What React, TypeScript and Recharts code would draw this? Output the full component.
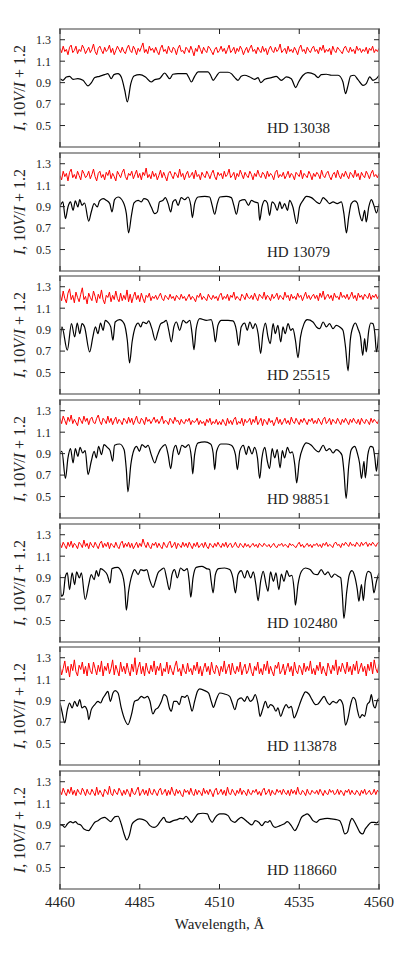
import { LineChart, Line, XAxis, YAxis } from 'recharts'

const SERIF = '"Liberation Serif", "DejaVu Serif", serif'
const INK = '#222'
const FRAME = '#7c7c7c'

const X_TICKS = [4460, 4485, 4510, 4535, 4560]
const Y_TICKS = [0.5, 0.7, 0.9, 1.1, 1.3]
const STAR_NAMES = ['HD 13038', 'HD 13079', 'HD 25515', 'HD 98851', 'HD 102480', 'HD 113878', 'HD 118660']

// Stokes I profiles (wavelength, normalised intensity)
const hd13038Wl = [4460.0, 4460.9, 4462.0, 4463.0, 4464.1, 4465.6, 4467.2, 4468.8, 4469.8, 4470.9, 4472.4, 4474.0, 4475.0, 4476.1, 4476.9, 4478.2, 4479.2, 4480.3, 4481.1, 4482.2, 4483.2, 4485.0, 4486.8, 4488.6, 4489.7, 4491.2, 4492.8, 4494.4, 4495.4, 4497.0, 4499.6, 4500.3, 4501.2, 4502.2, 4503.3, 4506.4, 4507.2, 4508.0, 4509.0, 4510.1, 4512.7, 4513.7, 4514.8, 4515.8, 4516.8, 4517.9, 4519.5, 4521.0, 4522.1, 4522.9, 4524.2, 4526.3, 4527.8, 4529.4, 4531.0, 4532.5, 4533.9, 4534.8, 4536.2, 4537.7, 4539.8, 4540.9, 4541.9, 4543.5, 4545.1, 4547.2, 4548.7, 4549.5, 4550.3, 4551.1, 4552.2, 4553.4, 4555.0, 4556.0, 4557.1, 4558.1, 4559.2, 4560.0]
const hd13038I = [0.937, 0.922, 0.953, 0.959, 0.931, 0.937, 0.922, 0.869, 0.897, 0.947, 0.959, 0.975, 0.984, 0.937, 0.975, 0.984, 0.953, 0.829, 0.72, 0.891, 0.962, 0.975, 0.953, 0.906, 0.928, 0.937, 0.99, 0.937, 0.978, 0.984, 0.984, 0.953, 0.906, 0.959, 1.0, 1.0, 0.969, 0.922, 0.959, 0.997, 0.997, 0.984, 0.947, 0.922, 0.959, 0.969, 0.953, 0.931, 0.947, 0.9, 0.931, 0.947, 0.959, 0.922, 0.953, 0.937, 0.854, 0.906, 0.969, 0.993, 0.975, 0.947, 0.975, 0.978, 0.969, 0.969, 0.906, 0.798, 0.875, 0.962, 0.969, 0.928, 0.875, 0.891, 0.953, 0.922, 0.937, 0.969]

const hd13079Wl = [4460.0, 4460.9, 4461.7, 4462.5, 4463.3, 4464.1, 4464.8, 4465.6, 4466.2, 4466.9, 4467.7, 4469.0, 4469.8, 4470.7, 4471.7, 4472.4, 4473.5, 4474.5, 4475.6, 4476.3, 4477.1, 4478.2, 4479.8, 4480.8, 4481.5, 4482.4, 4483.2, 4484.5, 4485.5, 4486.3, 4487.4, 4488.6, 4489.7, 4490.5, 4491.2, 4492.3, 4493.0, 4493.9, 4494.7, 4495.4, 4496.2, 4497.0, 4498.0, 4499.1, 4500.1, 4501.0, 4501.5, 4502.2, 4503.3, 4505.4, 4506.9, 4507.7, 4508.5, 4509.3, 4510.1, 4512.1, 4513.7, 4514.5, 4515.3, 4516.3, 4517.9, 4519.1, 4520.0, 4521.0, 4522.1, 4522.6, 4523.3, 4524.2, 4525.0, 4525.7, 4526.5, 4527.3, 4528.1, 4528.9, 4529.6, 4530.4, 4531.3, 4532.0, 4533.0, 4534.2, 4535.1, 4536.2, 4537.2, 4538.8, 4540.4, 4541.4, 4542.5, 4543.5, 4544.5, 4545.6, 4546.9, 4548.2, 4549.0, 4549.8, 4550.5, 4551.3, 4552.4, 4553.2, 4553.9, 4554.7, 4555.5, 4556.0, 4556.8, 4557.6, 4558.4, 4559.2, 4560.0]
const hd13079I = [0.903, 0.944, 0.788, 0.897, 0.944, 0.866, 0.953, 0.897, 0.965, 0.912, 0.934, 0.764, 0.85, 0.928, 0.897, 0.953, 0.975, 0.959, 0.928, 0.85, 0.965, 0.99, 0.944, 0.835, 0.655, 0.819, 0.934, 0.959, 0.944, 0.975, 0.965, 0.897, 0.835, 0.85, 0.944, 0.959, 0.984, 0.928, 0.85, 0.944, 0.965, 0.912, 0.984, 0.965, 0.99, 0.912, 0.798, 0.928, 0.99, 0.996, 0.99, 0.912, 0.829, 0.928, 0.99, 0.996, 0.984, 0.912, 0.829, 0.953, 0.965, 0.912, 0.959, 0.944, 0.934, 0.773, 0.897, 0.959, 0.934, 0.819, 0.944, 0.922, 0.866, 0.944, 0.881, 0.928, 0.866, 0.959, 0.897, 0.742, 0.897, 0.959, 0.996, 0.984, 0.944, 0.928, 0.984, 0.959, 0.928, 0.944, 0.928, 0.944, 0.835, 0.655, 0.804, 0.928, 0.953, 0.934, 0.835, 0.767, 0.866, 0.757, 0.897, 0.965, 0.912, 0.841, 0.928]

const hd25515Wl = [4460.0, 4460.6, 4462.3, 4463.6, 4464.6, 4465.4, 4466.2, 4466.9, 4467.7, 4469.3, 4470.3, 4471.1, 4471.9, 4472.7, 4473.5, 4474.2, 4475.0, 4475.9, 4476.6, 4477.3, 4478.7, 4480.1, 4481.1, 4481.8, 4482.6, 4483.6, 4484.5, 4485.3, 4486.0, 4487.1, 4487.8, 4488.8, 4489.9, 4490.7, 4491.6, 4492.6, 4493.3, 4494.1, 4494.9, 4495.7, 4496.5, 4497.5, 4498.6, 4499.6, 4500.7, 4501.4, 4502.0, 4502.7, 4503.8, 4505.9, 4507.4, 4508.2, 4508.7, 4509.5, 4510.6, 4512.7, 4514.2, 4515.3, 4516.0, 4516.8, 4517.9, 4518.7, 4519.5, 4520.5, 4521.2, 4522.1, 4522.9, 4523.6, 4524.4, 4525.2, 4525.9, 4526.8, 4527.5, 4528.3, 4529.2, 4529.9, 4530.6, 4531.5, 4532.3, 4533.0, 4533.8, 4534.6, 4535.4, 4536.5, 4537.5, 4539.3, 4540.4, 4541.4, 4542.5, 4543.5, 4544.5, 4545.6, 4546.6, 4547.7, 4548.7, 4549.5, 4550.3, 4551.0, 4551.9, 4552.6, 4553.4, 4554.2, 4554.9, 4555.5, 4556.0, 4556.8, 4557.4, 4558.1, 4558.7, 4559.2, 4559.7, 4560.0]
const hd25515I = [0.754, 0.925, 0.708, 0.956, 0.832, 0.962, 0.863, 0.956, 0.925, 0.692, 0.832, 0.925, 0.863, 0.962, 0.894, 0.987, 0.971, 0.925, 0.801, 0.971, 0.993, 0.956, 0.801, 0.59, 0.785, 0.925, 0.962, 0.925, 0.971, 0.956, 0.981, 0.909, 0.801, 0.878, 0.956, 0.971, 0.987, 0.894, 0.785, 0.925, 0.971, 0.894, 0.987, 0.962, 0.987, 0.863, 0.714, 0.909, 1.002, 0.987, 0.993, 0.894, 0.785, 0.94, 0.987, 0.987, 0.981, 0.894, 0.754, 0.925, 0.962, 0.894, 0.971, 0.909, 0.956, 0.863, 0.677, 0.863, 0.962, 0.832, 0.77, 0.956, 0.863, 0.94, 0.785, 0.925, 0.863, 0.956, 0.894, 0.909, 0.801, 0.64, 0.832, 0.956, 0.993, 0.971, 0.925, 0.909, 0.971, 0.925, 0.956, 0.909, 0.94, 0.925, 0.894, 0.739, 0.516, 0.801, 0.931, 0.962, 0.909, 0.832, 0.661, 0.816, 0.692, 0.894, 0.962, 0.956, 0.863, 0.692, 0.785, 0.894]

const hd98851Wl = [4460.0, 4460.6, 4461.7, 4462.5, 4463.3, 4464.1, 4464.8, 4465.6, 4466.3, 4467.1, 4467.9, 4468.8, 4469.8, 4470.7, 4471.4, 4472.1, 4473.0, 4473.8, 4474.8, 4475.7, 4476.5, 4477.1, 4478.7, 4480.1, 4480.8, 4481.3, 4482.2, 4483.2, 4484.0, 4484.9, 4485.7, 4486.8, 4487.6, 4488.6, 4489.7, 4490.5, 4491.4, 4492.2, 4493.0, 4493.9, 4494.7, 4495.5, 4496.3, 4497.2, 4498.2, 4499.3, 4500.3, 4501.2, 4501.6, 4502.2, 4503.3, 4505.4, 4507.2, 4508.0, 4508.5, 4509.1, 4510.4, 4512.1, 4513.7, 4515.0, 4515.6, 4516.4, 4517.5, 4518.4, 4519.1, 4520.2, 4521.0, 4521.9, 4522.6, 4523.3, 4524.2, 4525.0, 4525.7, 4526.5, 4527.3, 4528.1, 4529.0, 4529.7, 4530.4, 4531.3, 4532.1, 4532.8, 4533.6, 4534.2, 4535.0, 4536.2, 4537.2, 4538.8, 4540.0, 4541.1, 4542.5, 4543.5, 4544.5, 4545.6, 4546.6, 4547.7, 4548.4, 4549.0, 4549.7, 4550.5, 4551.3, 4552.4, 4553.2, 4553.9, 4554.5, 4555.3, 4555.7, 4556.5, 4557.4, 4558.1, 4558.7, 4559.2, 4559.7, 4560.0]
const hd98851I = [0.906, 0.922, 0.668, 0.86, 0.947, 0.813, 0.947, 0.875, 0.959, 0.906, 0.928, 0.705, 0.829, 0.922, 0.86, 0.968, 0.891, 0.984, 0.959, 0.928, 0.829, 0.978, 0.99, 0.937, 0.751, 0.544, 0.798, 0.937, 0.968, 0.922, 0.984, 0.959, 0.978, 0.891, 0.813, 0.875, 0.937, 0.968, 0.984, 0.891, 0.761, 0.922, 0.978, 0.891, 0.978, 0.959, 0.984, 0.86, 0.711, 0.891, 1.0, 1.009, 0.99, 0.906, 0.751, 0.922, 0.99, 0.99, 0.978, 0.891, 0.751, 0.928, 0.978, 0.891, 0.968, 0.897, 0.959, 0.86, 0.668, 0.86, 0.959, 0.829, 0.761, 0.947, 0.86, 0.937, 0.767, 0.928, 0.86, 0.959, 0.906, 0.916, 0.798, 0.627, 0.829, 0.959, 1.0, 0.978, 0.937, 0.916, 0.978, 0.928, 0.947, 0.906, 0.937, 0.916, 0.885, 0.736, 0.482, 0.782, 0.937, 0.968, 0.906, 0.813, 0.668, 0.829, 0.674, 0.891, 0.968, 0.959, 0.86, 0.736, 0.86, 0.937]

const hd102480Wl = [4460.0, 4460.4, 4461.0, 4461.7, 4462.3, 4463.0, 4463.8, 4464.6, 4465.2, 4466.1, 4466.7, 4467.9, 4469.0, 4469.8, 4470.7, 4471.4, 4472.1, 4472.7, 4473.8, 4474.8, 4475.7, 4476.3, 4478.0, 4479.4, 4480.3, 4480.8, 4481.5, 4482.6, 4483.4, 4484.5, 4485.3, 4486.3, 4487.2, 4488.1, 4489.2, 4489.9, 4490.7, 4491.8, 4492.6, 4493.4, 4494.3, 4495.1, 4495.9, 4496.8, 4497.8, 4498.9, 4499.9, 4500.5, 4501.0, 4501.7, 4502.7, 4504.5, 4505.9, 4506.9, 4507.4, 4508.0, 4508.7, 4509.7, 4511.6, 4513.2, 4514.2, 4515.0, 4515.8, 4516.8, 4517.9, 4518.7, 4519.8, 4520.6, 4521.4, 4522.1, 4522.9, 4523.7, 4524.6, 4525.2, 4526.0, 4526.9, 4527.7, 4528.6, 4529.4, 4530.2, 4531.1, 4531.9, 4532.7, 4533.4, 4533.8, 4534.6, 4535.7, 4536.9, 4538.4, 4539.6, 4540.7, 4541.9, 4543.0, 4544.0, 4545.1, 4546.1, 4547.2, 4548.0, 4548.5, 4549.0, 4549.9, 4550.7, 4551.5, 4552.4, 4553.2, 4553.7, 4554.5, 4555.1, 4555.7, 4556.6, 4557.4, 4557.9, 4558.4, 4559.2, 4560.0]
const hd102480I = [0.928, 0.727, 0.742, 0.912, 0.944, 0.788, 0.944, 0.835, 0.953, 0.897, 0.944, 0.696, 0.835, 0.928, 0.881, 0.965, 0.912, 0.984, 0.965, 0.928, 0.85, 0.984, 0.996, 0.944, 0.804, 0.596, 0.773, 0.928, 0.975, 0.928, 0.975, 0.965, 0.975, 0.881, 0.81, 0.866, 0.944, 0.975, 0.99, 0.897, 0.788, 0.928, 0.975, 0.897, 0.99, 0.965, 0.984, 0.866, 0.717, 0.897, 0.996, 1.005, 0.984, 0.975, 0.866, 0.758, 0.928, 0.984, 0.99, 0.975, 0.897, 0.758, 0.928, 0.965, 0.897, 0.965, 0.897, 0.953, 0.835, 0.686, 0.866, 0.959, 0.835, 0.773, 0.953, 0.866, 0.944, 0.788, 0.934, 0.866, 0.965, 0.912, 0.922, 0.788, 0.643, 0.835, 0.959, 0.99, 0.975, 0.934, 0.928, 0.975, 0.928, 0.953, 0.903, 0.934, 0.912, 0.897, 0.742, 0.519, 0.773, 0.928, 0.965, 0.912, 0.788, 0.68, 0.835, 0.686, 0.866, 0.959, 0.944, 0.866, 0.758, 0.866, 0.944]

const hd113878Wl = [4460.0, 4460.6, 4461.5, 4462.3, 4463.0, 4463.8, 4464.6, 4465.4, 4466.2, 4466.9, 4467.7, 4468.6, 4469.0, 4469.8, 4470.9, 4471.9, 4472.7, 4473.5, 4474.2, 4475.0, 4475.8, 4476.6, 4477.3, 4478.2, 4479.2, 4480.3, 4481.3, 4482.4, 4483.4, 4484.5, 4485.5, 4486.5, 4487.4, 4488.2, 4489.1, 4489.9, 4490.7, 4491.8, 4492.6, 4493.4, 4494.3, 4494.9, 4495.7, 4496.6, 4497.4, 4498.2, 4499.1, 4499.9, 4500.8, 4501.4, 4502.2, 4503.1, 4503.8, 4505.4, 4506.6, 4507.4, 4508.1, 4509.0, 4510.1, 4511.6, 4513.2, 4514.0, 4514.8, 4515.8, 4516.8, 4517.9, 4518.7, 4519.6, 4520.4, 4521.2, 4522.1, 4522.7, 4523.5, 4524.4, 4525.2, 4526.0, 4526.9, 4527.7, 4528.3, 4529.2, 4530.0, 4530.9, 4531.7, 4532.5, 4533.4, 4534.2, 4535.1, 4536.1, 4536.9, 4538.0, 4539.0, 4540.1, 4540.9, 4541.9, 4542.8, 4543.6, 4544.5, 4545.6, 4546.6, 4547.7, 4548.7, 4549.5, 4550.3, 4551.1, 4551.9, 4552.6, 4553.2, 4554.0, 4554.7, 4555.5, 4556.3, 4557.1, 4557.6, 4558.2, 4558.8, 4559.4, 4560.0]
const hd113878I = [0.878, 0.801, 0.692, 0.816, 0.878, 0.832, 0.894, 0.847, 0.909, 0.832, 0.847, 0.801, 0.723, 0.816, 0.863, 0.894, 0.878, 0.925, 0.956, 0.987, 0.894, 0.971, 0.993, 0.971, 0.832, 0.723, 0.677, 0.77, 0.894, 0.909, 0.94, 0.925, 0.94, 0.894, 0.776, 0.816, 0.832, 0.894, 0.956, 0.94, 0.832, 0.801, 0.894, 0.894, 0.863, 0.94, 0.931, 0.95, 0.863, 0.801, 0.894, 0.987, 1.009, 0.993, 0.971, 0.894, 0.838, 0.909, 0.971, 0.962, 0.94, 0.878, 0.816, 0.909, 0.925, 0.894, 0.94, 0.894, 0.909, 0.956, 0.863, 0.754, 0.816, 0.894, 0.832, 0.863, 0.847, 0.801, 0.832, 0.754, 0.816, 0.863, 0.832, 0.847, 0.739, 0.785, 0.863, 0.94, 0.981, 0.962, 0.909, 0.863, 0.869, 0.909, 0.94, 0.894, 0.863, 0.894, 0.878, 0.909, 0.863, 0.671, 0.739, 0.863, 0.931, 0.909, 0.816, 0.739, 0.77, 0.754, 0.863, 0.894, 0.956, 0.863, 0.832, 0.894, 0.925]

const hd118660Wl = [4460.0, 4460.6, 4461.5, 4462.3, 4463.3, 4464.1, 4464.8, 4465.6, 4466.5, 4467.5, 4469.0, 4469.8, 4470.9, 4471.9, 4473.0, 4474.0, 4474.8, 4475.9, 4476.6, 4477.3, 4478.2, 4479.2, 4480.1, 4480.9, 4481.7, 4482.6, 4483.6, 4484.9, 4486.1, 4487.2, 4488.2, 4489.5, 4490.5, 4491.6, 4492.6, 4493.3, 4494.3, 4495.5, 4496.8, 4497.6, 4498.6, 4499.5, 4500.3, 4501.2, 4502.2, 4503.3, 4504.8, 4506.2, 4506.9, 4507.7, 4508.7, 4510.1, 4511.4, 4512.7, 4513.7, 4514.8, 4515.8, 4516.8, 4517.7, 4518.9, 4520.2, 4521.2, 4522.3, 4523.3, 4524.4, 4525.2, 4525.8, 4526.7, 4527.5, 4529.0, 4530.2, 4531.3, 4532.5, 4533.6, 4534.6, 4535.7, 4536.7, 4537.5, 4538.4, 4539.3, 4540.4, 4541.4, 4542.5, 4543.8, 4545.1, 4546.6, 4547.7, 4548.4, 4549.3, 4550.1, 4550.9, 4551.5, 4552.4, 4553.2, 4554.0, 4554.9, 4555.7, 4556.5, 4557.6, 4558.6, 4559.3, 4560.0]
const hd118660I = [0.891, 0.897, 0.875, 0.906, 0.928, 0.916, 0.928, 0.906, 0.897, 0.86, 0.844, 0.875, 0.922, 0.937, 0.959, 0.968, 0.953, 0.928, 0.953, 0.975, 0.978, 0.906, 0.813, 0.758, 0.798, 0.906, 0.937, 0.953, 0.947, 0.928, 0.891, 0.875, 0.891, 0.937, 0.968, 0.928, 0.922, 0.937, 0.947, 0.959, 0.953, 0.978, 0.953, 0.922, 0.959, 1.0, 1.006, 1.0, 0.953, 0.922, 0.968, 1.0, 1.0, 0.984, 0.937, 0.922, 0.947, 0.968, 0.953, 0.922, 0.897, 0.937, 0.922, 0.891, 0.928, 0.922, 0.937, 0.891, 0.875, 0.891, 0.906, 0.928, 0.891, 0.844, 0.891, 0.968, 0.99, 1.0, 0.978, 0.937, 0.922, 0.947, 0.953, 0.959, 0.953, 0.947, 0.937, 0.891, 0.813, 0.829, 0.922, 0.959, 0.922, 0.875, 0.829, 0.813, 0.86, 0.891, 0.922, 0.922, 0.916, 0.937]

// Stokes V (10V/I + 1.2), sampled evenly across 4460-4560
const hd13038V = [1.22, 1.18, 1.24, 1.19, 1.21, 1.16, 1.23, 1.25, 1.18, 1.2, 1.24, 1.17, 1.21, 1.19, 1.25, 1.22, 1.17, 1.2, 1.23, 1.18, 1.21, 1.26, 1.19, 1.16, 1.22, 1.24, 1.2, 1.17, 1.23, 1.19, 1.21, 1.25, 1.18, 1.22, 1.16, 1.2, 1.24, 1.21, 1.18, 1.23, 1.19, 1.17, 1.22, 1.25, 1.2, 1.18, 1.24, 1.21, 1.16, 1.22, 1.19, 1.23, 1.27, 1.18, 1.21, 1.17, 1.24, 1.2, 1.22, 1.18, 1.23, 1.19, 1.16, 1.22, 1.25, 1.19, 1.21, 1.17, 1.24, 1.2, 1.18, 1.23, 1.21, 1.16, 1.22, 1.25, 1.19, 1.2, 1.17, 1.23, 1.21, 1.18, 1.24, 1.2, 1.15, 1.22, 1.19, 1.25, 1.21, 1.17, 1.23, 1.2, 1.18, 1.24, 1.22, 1.19, 1.16, 1.21, 1.23, 1.18, 1.2, 1.24, 1.19, 1.22, 1.17, 1.21, 1.25, 1.18, 1.2, 1.23, 1.17, 1.22, 1.19, 1.24, 1.21, 1.16, 1.2, 1.23, 1.18, 1.22, 1.25, 1.19, 1.21, 1.17, 1.23, 1.2, 1.18, 1.24, 1.19, 1.22, 1.16, 1.21, 1.24, 1.2, 1.18, 1.23, 1.19, 1.21, 1.26, 1.18, 1.2, 1.22, 1.17, 1.24, 1.19, 1.21, 1.18, 1.23, 1.2, 1.16, 1.22, 1.25, 1.19, 1.21, 1.17, 1.23, 1.2, 1.18, 1.22, 1.24, 1.19, 1.21, 1.17, 1.23, 1.2, 1.25, 1.18, 1.21, 1.19, 1.22, 1.16, 1.24, 1.2, 1.18, 1.23, 1.21, 1.19, 1.17, 1.22, 1.24, 1.2, 1.18, 1.23, 1.19, 1.21, 1.17, 1.24, 1.2, 1.22, 1.18, 1.21, 1.19, 1.23, 1.17, 1.22, 1.2, 1.24, 1.18, 1.21, 1.19, 1.22]
const hd13079V = [1.19, 1.15, 1.23, 1.18, 1.21, 1.14, 1.22, 1.25, 1.17, 1.2, 1.16, 1.23, 1.19, 1.15, 1.24, 1.21, 1.17, 1.19, 1.23, 1.16, 1.2, 1.25, 1.18, 1.14, 1.21, 1.23, 1.17, 1.2, 1.15, 1.22, 1.19, 1.24, 1.16, 1.21, 1.18, 1.14, 1.23, 1.2, 1.17, 1.22, 1.25, 1.18, 1.15, 1.21, 1.19, 1.23, 1.16, 1.2, 1.24, 1.17, 1.21, 1.15, 1.22, 1.19, 1.26, 1.17, 1.2, 1.16, 1.23, 1.18, 1.21, 1.15, 1.19, 1.24, 1.17, 1.22, 1.18, 1.14, 1.21, 1.23, 1.19, 1.16, 1.22, 1.2, 1.17, 1.25, 1.18, 1.21, 1.15, 1.2, 1.23, 1.17, 1.19, 1.22, 1.16, 1.24, 1.18, 1.2, 1.15, 1.22, 1.19, 1.17, 1.23, 1.2, 1.16, 1.21, 1.24, 1.18, 1.15, 1.22, 1.19, 1.21, 1.16, 1.23, 1.18, 1.2, 1.25, 1.17, 1.19, 1.22, 1.15, 1.21, 1.18, 1.24, 1.2, 1.16, 1.22, 1.19, 1.17, 1.23, 1.2, 1.15, 1.21, 1.18, 1.24, 1.19, 1.17, 1.22, 1.2, 1.16, 1.23, 1.18, 1.21, 1.19, 1.15, 1.22, 1.24, 1.17, 1.2, 1.18, 1.22, 1.16, 1.19, 1.23, 1.17, 1.21, 1.19, 1.15, 1.22, 1.2, 1.18, 1.24, 1.16, 1.21, 1.19, 1.17, 1.23, 1.2, 1.15, 1.21, 1.18, 1.22, 1.2, 1.16, 1.24, 1.19, 1.17, 1.21, 1.23, 1.18, 1.15, 1.2, 1.22, 1.17, 1.24, 1.19, 1.16, 1.21, 1.18, 1.23, 1.19, 1.16, 1.22, 1.2, 1.17, 1.24, 1.18, 1.21, 1.15, 1.22, 1.19, 1.17, 1.23, 1.2, 1.16, 1.21, 1.24, 1.18, 1.2, 1.17, 1.21]
const hd25515V = [1.23, 1.17, 1.26, 1.19, 1.15, 1.24, 1.28, 1.18, 1.22, 1.15, 1.25, 1.2, 1.16, 1.23, 1.29, 1.18, 1.21, 1.14, 1.24, 1.2, 1.17, 1.26, 1.21, 1.15, 1.23, 1.19, 1.27, 1.18, 1.14, 1.22, 1.2, 1.25, 1.16, 1.22, 1.18, 1.26, 1.19, 1.16, 1.24, 1.17, 1.22, 1.18, 1.27, 1.16, 1.23, 1.15, 1.21, 1.25, 1.18, 1.22, 1.16, 1.24, 1.19, 1.15, 1.22, 1.2, 1.24, 1.17, 1.21, 1.19, 1.22, 1.18, 1.21, 1.24, 1.19, 1.17, 1.22, 1.2, 1.18, 1.23, 1.19, 1.21, 1.17, 1.22, 1.2, 1.18, 1.23, 1.19, 1.21, 1.17, 1.2, 1.23, 1.18, 1.21, 1.19, 1.16, 1.22, 1.2, 1.24, 1.18, 1.21, 1.19, 1.17, 1.23, 1.2, 1.18, 1.22, 1.19, 1.21, 1.17, 1.22, 1.24, 1.18, 1.21, 1.19, 1.23, 1.17, 1.22, 1.2, 1.25, 1.18, 1.21, 1.19, 1.17, 1.23, 1.21, 1.18, 1.24, 1.2, 1.19, 1.22, 1.18, 1.24, 1.2, 1.17, 1.23, 1.21, 1.19, 1.25, 1.18, 1.22, 1.2, 1.17, 1.23, 1.19, 1.21, 1.24, 1.18, 1.22, 1.2, 1.18, 1.25, 1.2, 1.22, 1.17, 1.23, 1.19, 1.21, 1.18, 1.24, 1.2, 1.22, 1.17, 1.21, 1.25, 1.19, 1.22, 1.18, 1.21, 1.23, 1.19, 1.22, 1.17, 1.24, 1.2, 1.26, 1.18, 1.21, 1.23, 1.19, 1.22, 1.17, 1.24, 1.2, 1.21, 1.18, 1.25, 1.2, 1.22, 1.19, 1.23, 1.18, 1.21, 1.25, 1.19, 1.22, 1.17, 1.24, 1.2, 1.22, 1.18, 1.23, 1.21, 1.19, 1.24, 1.18, 1.22, 1.2, 1.23, 1.19, 1.22]
const hd98851V = [1.23, 1.18, 1.25, 1.21, 1.17, 1.24, 1.2, 1.26, 1.18, 1.22, 1.19, 1.16, 1.24, 1.21, 1.18, 1.25, 1.2, 1.23, 1.17, 1.22, 1.24, 1.19, 1.18, 1.23, 1.26, 1.2, 1.17, 1.23, 1.21, 1.18, 1.25, 1.19, 1.23, 1.17, 1.21, 1.24, 1.18, 1.22, 1.2, 1.17, 1.23, 1.21, 1.18, 1.24, 1.19, 1.23, 1.17, 1.21, 1.25, 1.19, 1.18, 1.23, 1.21, 1.17, 1.24, 1.2, 1.22, 1.18, 1.21, 1.24, 1.19, 1.22, 1.18, 1.21, 1.25, 1.18, 1.21, 1.2, 1.17, 1.23, 1.21, 1.18, 1.24, 1.2, 1.21, 1.17, 1.22, 1.19, 1.18, 1.22, 1.2, 1.23, 1.17, 1.21, 1.19, 1.2, 1.23, 1.17, 1.21, 1.18, 1.2, 1.16, 1.22, 1.19, 1.23, 1.17, 1.2, 1.18, 1.22, 1.17, 1.2, 1.17, 1.22, 1.19, 1.16, 1.23, 1.18, 1.21, 1.17, 1.22, 1.24, 1.17, 1.2, 1.18, 1.23, 1.16, 1.22, 1.19, 1.2, 1.23, 1.17, 1.22, 1.19, 1.25, 1.17, 1.2, 1.23, 1.16, 1.22, 1.2, 1.17, 1.23, 1.19, 1.21, 1.16, 1.2, 1.24, 1.18, 1.22, 1.17, 1.2, 1.23, 1.18, 1.21, 1.17, 1.24, 1.2, 1.18, 1.23, 1.2, 1.17, 1.22, 1.19, 1.23, 1.2, 1.17, 1.22, 1.2, 1.23, 1.18, 1.21, 1.18, 1.23, 1.2, 1.17, 1.22, 1.24, 1.18, 1.2, 1.23, 1.17, 1.22, 1.2, 1.18, 1.23, 1.2, 1.17, 1.22, 1.19, 1.23, 1.2, 1.17, 1.22, 1.19, 1.23, 1.2, 1.18, 1.22, 1.17, 1.23, 1.2, 1.18, 1.22, 1.2, 1.17, 1.23, 1.19, 1.22, 1.2, 1.18, 1.22]
const hd102480V = [1.22, 1.18, 1.23, 1.2, 1.17, 1.23, 1.19, 1.24, 1.18, 1.22, 1.2, 1.17, 1.23, 1.21, 1.18, 1.25, 1.19, 1.22, 1.17, 1.23, 1.2, 1.18, 1.23, 1.2, 1.17, 1.22, 1.24, 1.18, 1.22, 1.19, 1.23, 1.17, 1.22, 1.2, 1.18, 1.23, 1.19, 1.17, 1.22, 1.24, 1.18, 1.22, 1.19, 1.23, 1.18, 1.22, 1.17, 1.2, 1.23, 1.18, 1.22, 1.19, 1.26, 1.21, 1.18, 1.23, 1.19, 1.17, 1.22, 1.2, 1.23, 1.18, 1.22, 1.19, 1.17, 1.23, 1.2, 1.18, 1.22, 1.24, 1.18, 1.2, 1.23, 1.17, 1.22, 1.2, 1.18, 1.23, 1.19, 1.22, 1.18, 1.23, 1.2, 1.17, 1.22, 1.19, 1.23, 1.18, 1.2, 1.22, 1.18, 1.23, 1.19, 1.17, 1.22, 1.2, 1.18, 1.22, 1.19, 1.23, 1.2, 1.18, 1.22, 1.19, 1.23, 1.18, 1.21, 1.22, 1.18, 1.2, 1.23, 1.19, 1.18, 1.22, 1.2, 1.18, 1.22, 1.19, 1.21, 1.18, 1.2, 1.22, 1.19, 1.21, 1.18, 1.22, 1.2, 1.19, 1.22, 1.2, 1.19, 1.21, 1.18, 1.2, 1.22, 1.19, 1.18, 1.21, 1.2, 1.22, 1.19, 1.21, 1.2, 1.18, 1.22, 1.2, 1.21, 1.19, 1.18, 1.21, 1.23, 1.19, 1.21, 1.18, 1.2, 1.22, 1.19, 1.21, 1.18, 1.21, 1.2, 1.22, 1.19, 1.21, 1.18, 1.22, 1.2, 1.23, 1.19, 1.21, 1.2, 1.18, 1.22, 1.23, 1.2, 1.21, 1.18, 1.22, 1.2, 1.23, 1.21, 1.19, 1.23, 1.2, 1.21, 1.19, 1.23, 1.21, 1.19, 1.23, 1.2, 1.22, 1.23, 1.19, 1.22, 1.2, 1.23, 1.21, 1.19, 1.22, 1.23]
const hd113878V = [1.23, 1.14, 1.2, 1.27, 1.16, 1.22, 1.12, 1.24, 1.18, 1.28, 1.17, 1.13, 1.23, 1.19, 1.26, 1.15, 1.22, 1.13, 1.25, 1.18, 1.15, 1.26, 1.2, 1.14, 1.23, 1.17, 1.27, 1.13, 1.22, 1.18, 1.25, 1.15, 1.2, 1.28, 1.14, 1.23, 1.18, 1.13, 1.26, 1.17, 1.22, 1.15, 1.25, 1.18, 1.13, 1.24, 1.17, 1.3, 1.14, 1.21, 1.26, 1.15, 1.22, 1.13, 1.25, 1.18, 1.15, 1.23, 1.17, 1.27, 1.14, 1.22, 1.18, 1.25, 1.13, 1.2, 1.17, 1.26, 1.15, 1.23, 1.18, 1.14, 1.22, 1.27, 1.17, 1.2, 1.13, 1.24, 1.18, 1.15, 1.25, 1.17, 1.2, 1.14, 1.23, 1.18, 1.26, 1.15, 1.22, 1.13, 1.2, 1.25, 1.17, 1.22, 1.14, 1.26, 1.18, 1.15, 1.23, 1.2, 1.13, 1.22, 1.17, 1.27, 1.15, 1.2, 1.24, 1.14, 1.25, 1.18, 1.15, 1.22, 1.17, 1.26, 1.14, 1.2, 1.24, 1.15, 1.18, 1.25, 1.17, 1.13, 1.22, 1.18, 1.26, 1.15, 1.2, 1.14, 1.24, 1.18, 1.27, 1.15, 1.22, 1.17, 1.13, 1.23, 1.2, 1.26, 1.15, 1.18, 1.24, 1.14, 1.2, 1.25, 1.17, 1.22, 1.13, 1.26, 1.18, 1.15, 1.23, 1.2, 1.14, 1.25, 1.17, 1.22, 1.18, 1.27, 1.15, 1.2, 1.14, 1.23, 1.18, 1.26, 1.15, 1.22, 1.17, 1.13, 1.25, 1.2, 1.15, 1.23, 1.18, 1.28, 1.14, 1.22, 1.17, 1.25, 1.2, 1.15, 1.26, 1.17, 1.22, 1.14, 1.24, 1.18, 1.27, 1.15, 1.2, 1.25, 1.17, 1.22, 1.13, 1.24, 1.18, 1.26, 1.15, 1.28, 1.2, 1.16, 1.24]
const hd118660V = [1.22, 1.18, 1.24, 1.2, 1.17, 1.23, 1.19, 1.25, 1.18, 1.22, 1.17, 1.23, 1.2, 1.18, 1.24, 1.21, 1.17, 1.23, 1.19, 1.18, 1.23, 1.2, 1.17, 1.25, 1.18, 1.22, 1.19, 1.16, 1.23, 1.21, 1.18, 1.26, 1.19, 1.17, 1.23, 1.2, 1.18, 1.24, 1.21, 1.17, 1.22, 1.18, 1.23, 1.2, 1.16, 1.24, 1.19, 1.18, 1.22, 1.25, 1.17, 1.2, 1.23, 1.18, 1.22, 1.17, 1.24, 1.19, 1.18, 1.23, 1.2, 1.17, 1.22, 1.24, 1.18, 1.2, 1.23, 1.17, 1.22, 1.18, 1.25, 1.2, 1.17, 1.23, 1.19, 1.22, 1.18, 1.16, 1.23, 1.2, 1.22, 1.18, 1.24, 1.19, 1.17, 1.23, 1.18, 1.22, 1.2, 1.17, 1.24, 1.19, 1.22, 1.18, 1.23, 1.2, 1.16, 1.22, 1.24, 1.18, 1.2, 1.23, 1.18, 1.22, 1.17, 1.25, 1.19, 1.18, 1.23, 1.2, 1.17, 1.22, 1.19, 1.24, 1.18, 1.22, 1.2, 1.17, 1.23, 1.19, 1.18, 1.22, 1.2, 1.23, 1.18, 1.21, 1.17, 1.22, 1.24, 1.18, 1.2, 1.23, 1.17, 1.22, 1.19, 1.18, 1.23, 1.2, 1.22, 1.18, 1.23, 1.2, 1.18, 1.22, 1.17, 1.23, 1.19, 1.22, 1.18, 1.25, 1.19, 1.18, 1.22, 1.2, 1.17, 1.23, 1.19, 1.18, 1.22, 1.2, 1.19, 1.22, 1.18, 1.23, 1.2, 1.17, 1.22, 1.19, 1.18, 1.23, 1.2, 1.22, 1.18, 1.19, 1.23, 1.18, 1.22, 1.2, 1.17, 1.22, 1.2, 1.23, 1.18, 1.22, 1.19, 1.18, 1.22, 1.2, 1.17, 1.22, 1.19, 1.23, 1.18, 1.2, 1.22, 1.18, 1.19, 1.23, 1.18, 1.22, 1.2]

const spectra = [
  { wl: hd13038Wl, flux: hd13038I, pol: hd13038V },
  { wl: hd13079Wl, flux: hd13079I, pol: hd13079V },
  { wl: hd25515Wl, flux: hd25515I, pol: hd25515V },
  { wl: hd98851Wl, flux: hd98851I, pol: hd98851V },
  { wl: hd102480Wl, flux: hd102480I, pol: hd102480V },
  { wl: hd113878Wl, flux: hd113878I, pol: hd113878V },
  { wl: hd118660Wl, flux: hd118660I, pol: hd118660V },
]

const PLOT_TOP = 10
const PLOT_H = 118
const CHART_W = 399

function LeftTick({ x, y, payload }: any) {
  return (
    <g>
      <line x1={x} y1={y} x2={x + 5} y2={y} stroke={INK} strokeWidth={1} />
      <text x={x - 9} y={y} dy="0.36em" textAnchor="end" fontSize={12} fontFamily={SERIF} fill={INK}>
        {Number(payload.value).toFixed(1)}
      </text>
    </g>
  )
}

function RightTick({ x, y }: any) {
  return <line x1={x - 5} y1={y} x2={x} y2={y} stroke={INK} strokeWidth={1} />
}

function TopTick({ x, y }: any) {
  return <line x1={x} y1={y} x2={x} y2={y + 5} stroke={INK} strokeWidth={1} />
}

function BottomTick({ x, y, payload, showLabel }: any) {
  return (
    <g>
      <line x1={x} y1={y - 5} x2={x} y2={y} stroke={INK} strokeWidth={1} />
      {showLabel && (
        <text x={x} y={y + 13} dy="0.36em" textAnchor="middle" fontSize={15} fontFamily={SERIF} fill={INK}>
          {payload.value}
        </text>
      )}
    </g>
  )
}

function StarLabel({ name }: any) {
  return (
    <text x={267} y={PLOT_TOP + 103.5} fontSize={15} fontFamily={SERIF} fill={INK}>
      {name}
    </text>
  )
}

function IntensityLabel() {
  const cx = 19
  const cy = PLOT_TOP + PLOT_H / 2
  return (
    <text
      x={cx}
      y={cy}
      dy="0.35em"
      textAnchor="middle"
      transform={`rotate(-90 ${cx} ${cy})`}
      fontSize={16}
      fontFamily={SERIF}
      fill={INK}
    >
      <tspan fontStyle="italic">I</tspan>, 10<tspan fontStyle="italic">V</tspan>/<tspan fontStyle="italic">I</tspan> + 1.2
    </text>
  )
}

function WavelengthLabel() {
  return (
    <text x={219.5} y={PLOT_TOP + PLOT_H + 35} dy="0.36em" textAnchor="middle" fontSize={15} fontFamily={SERIF} fill={INK}>
      Wavelength, Å
    </text>
  )
}

function Panel({ index }: { index: number }) {
  const s = spectra[index]
  const last = index === spectra.length - 1
  const bottomH = last ? 50 : 10
  const flux = s.wl.map((w, i) => ({ w, v: s.flux[i] }))
  const step = 100 / (s.pol.length - 1)
  const pol = s.pol.map((v, i) => ({ w: 4460 + i * step, v }))
  const frame = { stroke: FRAME, strokeWidth: 1.5, strokeLinecap: 'square' as const }
  const top = Math.round(29 + index * 123.67) - PLOT_TOP

  return (
    <div style={{ position: 'absolute', left: 0, top }}>
      <LineChart
        width={CHART_W}
        height={PLOT_TOP + PLOT_H + bottomH}
        margin={{ top: 0, right: 19, bottom: 0, left: 0 }}
      >
        <XAxis
          xAxisId="b"
          dataKey="w"
          type="number"
          domain={[4460, 4560]}
          allowDataOverflow
          ticks={X_TICKS}
          interval={0}
          height={bottomH}
          tickSize={0}
          tickMargin={0}
          tickLine={false}
          axisLine={frame}
          tick={<BottomTick showLabel={last} />}
          label={last ? <WavelengthLabel /> : undefined}
        />
        <XAxis
          xAxisId="t"
          orientation="top"
          dataKey="w"
          type="number"
          domain={[4460, 4560]}
          allowDataOverflow
          ticks={X_TICKS}
          interval={0}
          height={PLOT_TOP}
          tickSize={0}
          tickMargin={0}
          tickLine={false}
          axisLine={frame}
          tick={<TopTick />}
          label={<StarLabel name={STAR_NAMES[index]} />}
        />
        <YAxis
          yAxisId="l"
          type="number"
          domain={[0.3, 1.4]}
          allowDataOverflow
          ticks={Y_TICKS}
          interval={0}
          width={60}
          tickSize={0}
          tickMargin={0}
          tickLine={false}
          axisLine={frame}
          tick={<LeftTick />}
          label={<IntensityLabel />}
        />
        <YAxis
          yAxisId="r"
          orientation="right"
          type="number"
          domain={[0.3, 1.4]}
          allowDataOverflow
          ticks={Y_TICKS}
          interval={0}
          width={1}
          tickSize={0}
          tickMargin={0}
          tickLine={false}
          axisLine={frame}
          tick={<RightTick />}
        />
        <Line
          data={pol}
          dataKey="v"
          xAxisId="t"
          yAxisId="r"
          type="linear"
          stroke="#ff0000"
          strokeWidth={1}
          dot={false}
          isAnimationActive={false}
        />
        <Line
          data={flux}
          dataKey="v"
          xAxisId="b"
          yAxisId="l"
          type="monotone"
          stroke="#000"
          strokeWidth={1.2}
          dot={false}
          isAnimationActive={false}
        />
      </LineChart>
    </div>
  )
}

export default function App() {
  return (
    <div style={{ position: 'absolute', left: 0, top: 0, width: 399, height: 968, background: '#fff' }}>
      {spectra.map((_, i) => (
        <Panel key={STAR_NAMES[i]} index={i} />
      ))}
    </div>
  )
}
